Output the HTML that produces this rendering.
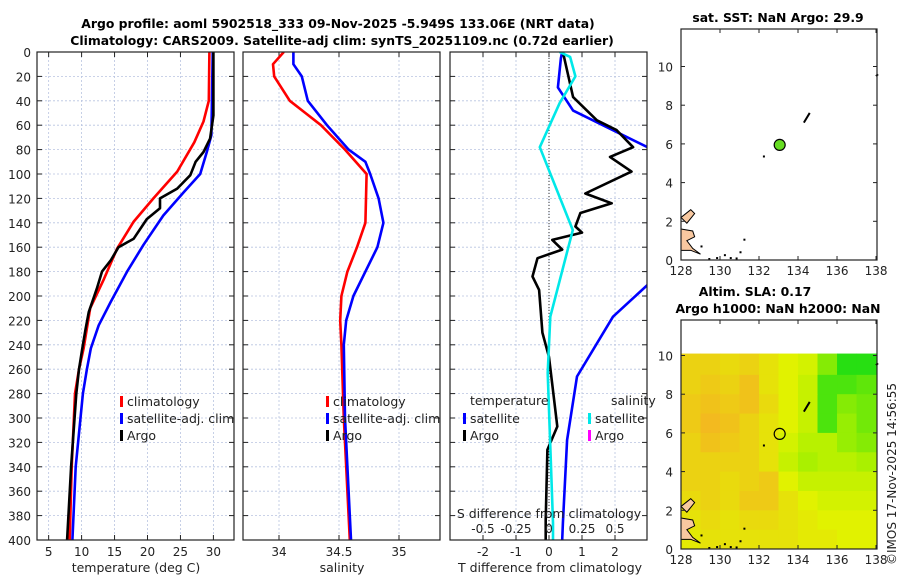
<!DOCTYPE html>
<html><head><meta charset="utf-8">
<style>
html,body{margin:0;padding:0;background:#fff;}
svg{display:block;font-family:"DejaVu Sans","Liberation Sans",sans-serif;}
</style></head>
<body>
<svg id="fig" width="900" height="580" viewBox="0 0 900 580" xmlns="http://www.w3.org/2000/svg">
<text x="338" y="28" text-anchor="middle" font-size="12.4" font-weight="bold">Argo profile: aoml 5902518_333 09-Nov-2025 -5.949S 133.06E (NRT data)</text>
<text x="342" y="45" text-anchor="middle" font-size="12.4" font-weight="bold">Climatology: CARS2009. Satellite-adj clim: synTS_20251109.nc (0.72d earlier)</text>
<text x="778" y="22" text-anchor="middle" font-size="12.4" font-weight="bold">sat. SST: NaN Argo: 29.9</text>
<text x="755" y="296" text-anchor="middle" font-size="12.4" font-weight="bold">Altim. SLA: 0.17</text>
<text x="778" y="313" text-anchor="middle" font-size="12.4" font-weight="bold">Argo h1000: NaN h2000: NaN</text>
<text transform="translate(896,565) rotate(-90)" font-size="12" fill="#222">©IMOS 17-Nov-2025 14:56:55</text>
<g id="root"></g>
</svg>
<script>
// ---------- data ----------
const depthTicks = [0,20,40,60,80,100,120,140,160,180,200,220,240,260,280,300,320,340,360,380,400];
const tempTicks = [5,10,15,20,25,30];
const salTicks = [34,34.5,35];
const tdiffTicks = [-2,-1,0,1,2];
const sdiffTicks = [-0.5,-0.25,0,0.25,0.5];
const sdiffTickLabels = ["-0.5","-0.25","0","0.25","0.5"];

const climTDepth = [0,40,57,74,98,120,139,161,186,210,243,260,280,340,400];
const climT      = [29.4,29.3,28.5,27.1,24.5,20.9,17.9,15.4,13.4,11.3,10.3,9.6,9.0,8.5,8.2];
const argoTDepth = [0,52,71,82,90,101,112,120,128,137,153,160,171,180,194,213,227,243,260,280,340,400];
const argoT      = [30.0,30.0,29.5,28.5,27.3,26.5,24.5,21.9,21.9,19.9,17.9,15.6,14.4,13.1,12.3,11.1,10.6,10.1,9.6,9.2,8.4,7.8];
const satTDepth  = [0,68,82,100,115,134,158,180,205,224,243,260,280,340,400];
const satT       = [29.9,29.7,29.0,28.0,25.5,22.4,19.4,16.9,14.4,12.6,11.4,10.8,10.2,9.1,8.6];

const climSDepth = [0,10,20,40,50,60,80,100,140,160,180,200,220,240,300,400];
const climS      = [34.04,33.95,33.96,34.09,34.22,34.35,34.55,34.73,34.72,34.65,34.57,34.52,34.51,34.52,34.54,34.59];
const satSDepth  = [0,10,20,40,60,80,90,100,120,140,160,180,200,220,240,300,400];
const satS       = [34.12,34.12,34.19,34.24,34.4,34.58,34.72,34.76,34.83,34.87,34.82,34.72,34.62,34.56,34.54,34.55,34.6];

const argoTdDepth = [0,37,56,64,78,86,98,116,124,132,143,148,154,162,169,184,195,230,250,307,326,384,400];
const argoTd      = [0.42,0.73,1.45,2.05,2.55,1.85,2.5,1.1,1.9,0.95,0.8,1.0,0.1,0.4,-0.35,-0.5,-0.3,-0.2,0,0.25,-0.05,-0.1,-0.1];
const satTdDepth  = [0,5,29,48,79,189,217,266,318,386,400];
const satTd       = [0.4,0.36,0.27,0.73,3.06,3.06,1.94,0.85,0.55,0.42,0.4];
const satSdDepth  = [0,4,20,42,78,146,217,263,386,400];
const satSd       = [0.08,0.16,0.2,0.08,-0.07,0.18,0.01,-0.01,0.03,0.03];

const lonTicks = [128,130,132,134,136,138];
const latTicks = [0,2,4,6,8,10];
const argoLon = 133.06, argoLat = 5.949;
const slaGrid = [ // rows lat 10->0, cols lon 128->138
 [0.8,0.8,0.75,0.8,0.7,0.6,0.55,0.3,0.05,0.05],
 [0.8,0.85,0.8,0.9,0.7,0.6,0.5,0.15,0.15,0.2],
 [0.85,0.9,0.85,0.9,0.75,0.6,0.5,0.15,0.3,0.25],
 [0.85,0.95,0.9,0.8,0.7,0.6,0.5,0.15,0.35,0.25],
 [0.8,0.9,0.85,0.8,0.7,0.55,0.45,0.45,0.35,0.3],
 [0.8,0.8,0.8,0.8,0.7,0.5,0.4,0.45,0.45,0.4],
 [0.8,0.8,0.75,0.8,0.85,0.6,0.5,0.5,0.5,0.5],
 [0.75,0.8,0.75,0.85,0.85,0.7,0.6,0.55,0.55,0.55],
 [0.7,0.75,0.7,0.75,0.75,0.7,0.65,0.6,0.6,0.6],
 [0.65,0.7,0.7,0.7,0.7,0.7,0.65,0.65,0.6,0.6]];

// ---------- helpers ----------
const NS="http://www.w3.org/2000/svg";
const root=document.getElementById('root');
function mk(tag,attrs,parent){const e=document.createElementNS(NS,tag);for(const k in attrs)e.setAttribute(k,attrs[k]);(parent||root).appendChild(e);return e;}
function txt(s,attrs,parent){const e=mk('text',attrs,parent);e.textContent=s;return e;}
const PT=52, PB=540;
const yD=d=>PT+d*(PB-PT)/400;
const xT=t=>15.7+t*6.59;
const xS=s=>279+(s-34)*120;
const xTd=d=>549+d*33;
const xSd=s=>549+s*132;
const FS=12;

function panel(x0,x1,name,id){
  const g=mk('g',{});
  
  
  const cp=mk('clipPath',{id:id},g);
  mk('rect',{x:x0,y:PT,width:x1-x0,height:PB-PT},cp);
  return g;
}
function grid(g,x0,x1,xs){
  depthTicks.forEach(d=>{if(d>0&&d<400){mk('line',{x1:x0,x2:x1,y1:yD(d),y2:yD(d),stroke:'#b8c4e0','stroke-width':0.8,'stroke-dasharray':'2,2'},g);
    mk('line',{x1:x0,x2:x0+5,y1:yD(d),y2:yD(d),stroke:'#222'},g);mk('line',{x1:x1-5,x2:x1,y1:yD(d),y2:yD(d),stroke:'#222'},g);}});
  xs.forEach(x=>{mk('line',{x1:x,x2:x,y1:PT,y2:PB,stroke:'#b8c4e0','stroke-width':0.8,'stroke-dasharray':'2,2'},g);
    mk('line',{x1:x,x2:x,y1:PB,y2:PB-5,stroke:'#222'},g);mk('line',{x1:x,x2:x,y1:PT,y2:PT+5,stroke:'#222'},g);});
}
function frame(g,x0,x1){mk('rect',{x:x0,y:PT,width:x1-x0,height:PB-PT,fill:'none',stroke:'#222','stroke-width':1.2},g);}
function line(g,xs,ds,fx,color,name,clip){
  const pts=xs.map((v,i)=>fx(v).toFixed(1)+','+yD(ds[i]).toFixed(1)).join(' ');
  const p=mk('polyline',{points:pts,fill:'none',stroke:color,'stroke-width':2.6,'stroke-linejoin':'round','clip-path':'url(#'+clip+')'},g);
  
  
}
function legendEntry(g,x,y,color,label,name){
  const e=mk('g',{},g);
  
  
  mk('rect',{x:x,y:y-9,width:3,height:11,fill:color},e);
  txt(label,{x:x+7,y:y+1,'font-size':12.5,fill:'#222'},e);
}

// ---------- panel 1: temperature ----------
const g1=panel(37,234,'temperature-panel','c1');
grid(g1,37,234,tempTicks.map(xT));
line(g1,climT,climTDepth,xT,'#ff0000','climatology-temp-line','c1');
line(g1,satT,satTDepth,xT,'#0000ff','satellite-temp-line','c1');
line(g1,argoT,argoTDepth,xT,'#000000','argo-temp-line','c1');
frame(g1,37,234);
depthTicks.forEach(d=>{txt(String(d),{x:31,y:yD(d)+5,'text-anchor':'end','font-size':FS,fill:'#222'},g1);});
tempTicks.forEach(t=>txt(String(t),{x:xT(t),y:556,'text-anchor':'middle','font-size':FS,fill:'#222'},g1));
txt('temperature (deg C)',{x:136,y:572,'text-anchor':'middle','font-size':12.5,fill:'#222'},g1);
legendEntry(g1,120,405,'#ff0000','climatology','legend-climatology');
legendEntry(g1,120,422,'#0000ff','satellite-adj. clim','legend-satellite-adj');
legendEntry(g1,120,439,'#000000','Argo','legend-argo');

// ---------- panel 2: salinity ----------
const g2=panel(243,440,'salinity-panel','c2');
grid(g2,243,440,salTicks.map(xS));
line(g2,climS,climSDepth,xS,'#ff0000','climatology-sal-line','c2');
line(g2,satS,satSDepth,xS,'#0000ff','satellite-sal-line','c2');
frame(g2,243,440);
salTicks.forEach(s=>txt(String(s),{x:xS(s),y:556,'text-anchor':'middle','font-size':FS,fill:'#222'},g2));
txt('salinity',{x:342,y:572,'text-anchor':'middle','font-size':12.5,fill:'#222'},g2);
legendEntry(g2,326,405,'#ff0000','climatology','legend-sal-climatology');
legendEntry(g2,326,422,'#0000ff','satellite-adj. clim','legend-sal-satellite-adj');
legendEntry(g2,326,439,'#000000','Argo','legend-sal-argo');

// ---------- panel 3: differences ----------
const g3=panel(450,647,'difference-panel','c3');
grid(g3,450,647,tdiffTicks.map(xTd));
mk('line',{x1:xTd(0),x2:xTd(0),y1:PT,y2:PB,stroke:'#333','stroke-width':1,'stroke-dasharray':'1,2'},g3);
line(g3,satTd,satTdDepth,xTd,'#0000ff','satellite-tdiff-line','c3');
line(g3,argoTd,argoTdDepth,xTd,'#000000','argo-tdiff-line','c3');
line(g3,satSd,satSdDepth,xSd,'#00e8e8','satellite-sdiff-line','c3');
frame(g3,450,647);
tdiffTicks.forEach(t=>txt(String(t),{x:xTd(t),y:556,'text-anchor':'middle','font-size':FS,fill:'#222'},g3));
txt('T difference from climatology',{x:550,y:572,'text-anchor':'middle','font-size':12.5,fill:'#222'},g3);
txt('S difference from climatology',{x:549,y:518,'text-anchor':'middle','font-size':12.5,fill:'#222'},g3);
sdiffTicks.forEach((s,i)=>txt(sdiffTickLabels[i],{x:xSd(s),y:533,'text-anchor':'middle','font-size':FS,fill:'#222'},g3));
txt('temperature',{x:470,y:405,'font-size':12.5,fill:'#222'},g3);
txt('salinity',{x:611,y:405,'font-size':12.5,fill:'#222'},g3);
legendEntry(g3,463,422,'#0000ff','satellite','legend-tdiff-satellite');
legendEntry(g3,463,439,'#000000','Argo','legend-tdiff-argo');
legendEntry(g3,588,422,'#00e8e8','satellite','legend-sdiff-satellite');
legendEntry(g3,588,439,'#ff00ff','Argo','legend-sdiff-argo');

// ---------- maps ----------
function mapAxes(name,top,bottom,heat){
  const x0=681,x1=877;
  const lx=lon=>x0+(lon-128)*(x1-x0)/10.05;
  const ly=lat=>bottom-lat*19.35;
  const g=mk('g',{});
  
  
  mk('rect',{x:x0,y:top,width:x1-x0,height:bottom-top,fill:'#fff'},g);
  if(heat){
    const cols=[[0,[20,220,20]],[0.4,[170,240,0]],[0.6,[225,242,0]],[1,[245,178,35]]];
    function col(v){let i=0;while(i<cols.length-2&&v>cols[i+1][0])i++;const a=cols[i],b=cols[i+1];
      const f=Math.max(0,Math.min(1,(v-a[0])/(b[0]-a[0])));return 'rgb('+a[1].map((c,k)=>Math.round(c+(b[1][k]-c)*f)).join(',')+')';}
    slaGrid.forEach((row,r)=>row.forEach((v,c)=>{
      const latTop=r===0?10.1:10-r, latBot=9-r;
      const cell=mk('rect',{x:lx(128+c),y:ly(latTop),width:lx(129+c)-lx(128+c)+0.5,height:ly(latBot)-ly(latTop)+0.5,fill:col(v)},g);
      
      
    }));
  }
  const land=[[[128,2.2],[128.5,2.6],[128.7,2.4],[128.3,1.9]],[[128,1.6],[128.6,1.5],[128.7,1.2],[128.3,1.0],[128.6,0.6],[129,0.3],[128.5,0.5],[128,0.5]]];
  land.forEach(poly=>{const p=mk('polygon',{points:poly.map(q=>lx(q[0])+','+ly(q[1])).join(' '),fill:'#f8c8a0',stroke:'#000','stroke-width':1},g);
    });
  [[134.3,7.1,134.6,7.6],[138,9.5,138.1,9.6]].forEach(s=>mk('line',{x1:lx(s[0]),y1:ly(s[1]),x2:lx(s[2]),y2:ly(s[3]),stroke:'#000','stroke-width':2},g));
  [[129.4,0.05],[129.8,0.1],[130.2,0.25],[130.5,0.1],[130.8,0.08],[131.2,1.05],[131,0.4],[129,0.7],[132.2,5.35]].forEach(p=>mk('rect',{x:lx(p[0]),y:ly(p[1])-1,width:2,height:2,fill:'#000'},g));
  const m=mk('circle',{cx:lx(argoLon),cy:ly(argoLat),r:5.5,fill:heat?'none':'#66dd22',stroke:'#000','stroke-width':1.2},g);
  
  
  mk('rect',{x:x0,y:top,width:x1-x0,height:bottom-top,fill:'none',stroke:'#222','stroke-width':1.2},g);
  lonTicks.forEach(l=>{mk('line',{x1:lx(l),x2:lx(l),y1:bottom,y2:bottom-4,stroke:'#222'},g);mk('line',{x1:lx(l),x2:lx(l),y1:top,y2:top+4,stroke:'#222'},g);
    txt(String(l),{x:lx(l),y:bottom+15,'text-anchor':'middle','font-size':FS,fill:'#222'},g);});
  latTicks.forEach(l=>{mk('line',{x1:x0,x2:x0+4,y1:ly(l),y2:ly(l),stroke:'#222'},g);mk('line',{x1:x1-4,x2:x1,y1:ly(l),y2:ly(l),stroke:'#222'},g);
    txt(String(l),{x:x0-8,y:ly(l)+5,'text-anchor':'end','font-size':FS,fill:'#222'},g);});
}
mapAxes('sst-map',29,260,false);
mapAxes('sla-map',320,549,true);
</script>
</body></html>
